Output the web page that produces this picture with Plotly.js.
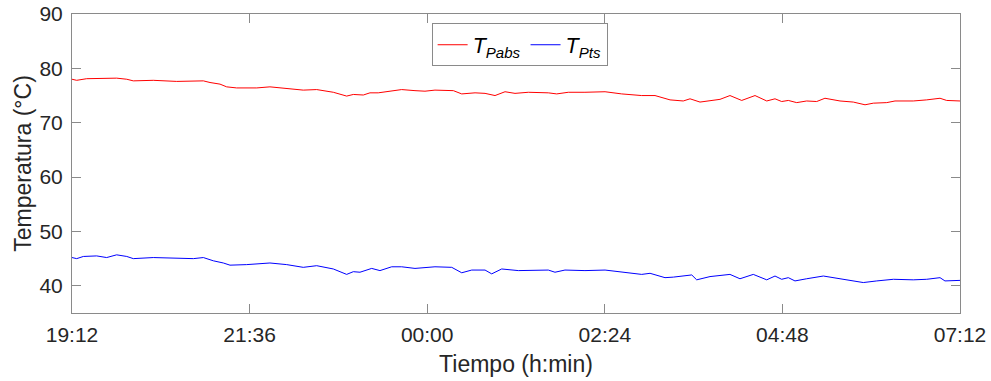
<!DOCTYPE html>
<html><head><meta charset="utf-8">
<script src="https://cdn.plot.ly/plotly-3.0.1.min.js"></script>
<style>html,body{margin:0;padding:0;background:#fff}#chart{width:991px;height:381px}</style>
</head><body><div id="chart"></div>
<script>
const tickMinutes = [0, 144, 288, 432, 576, 720];
const tickLabels = ['19:12', '21:36', '00:00', '02:24', '04:48', '07:12'];
const yTicks = [40, 50, 60, 70, 80, 90];

const redMinutes = [0, 3.8, 11.9, 25.1, 36.2, 44.4, 49.7, 65.9, 84.9, 106.5, 111.9, 120.0, 125.4, 133.5, 149.8, 160.5, 174.1, 187.5, 198.4, 211.9, 222.7, 228.1, 236.2, 241.6, 248.3, 256.5, 267.3, 278.1, 286.2, 294.3, 309.2, 316.0, 326.8, 334.9, 343.0, 351.1, 359.2, 370.0, 386.2, 393.0, 402.4, 415.9, 432.2, 445.7, 461.9, 472.7, 476.8, 484.9, 495.6, 501.1, 509.2, 525.4, 533.5, 543.0, 553.8, 563.3, 570.0, 575.4, 580.8, 587.6, 595.7, 603.8, 610.5, 622.7, 633.5, 643.0, 649.7, 660.6, 667.3, 682.1, 693.0, 703.8, 709.2, 720];
const redTemps = [78.0, 77.8, 78.1, 78.1, 78.2, 78.0, 77.7, 77.8, 77.6, 77.7, 77.4, 77.1, 76.6, 76.4, 76.4, 76.6, 76.3, 76.0, 76.1, 75.6, 74.9, 75.2, 75.1, 75.5, 75.5, 75.8, 76.1, 75.9, 75.8, 76.0, 75.9, 75.3, 75.5, 75.4, 75.0, 75.7, 75.4, 75.6, 75.5, 75.3, 75.6, 75.6, 75.7, 75.3, 75.0, 75.0, 74.7, 74.2, 74.0, 74.4, 73.8, 74.3, 75.0, 74.1, 75.0, 74.0, 74.4, 73.9, 74.1, 73.7, 74.0, 73.9, 74.5, 74.0, 73.8, 73.3, 73.6, 73.7, 74.0, 74.0, 74.2, 74.5, 74.1, 74.0];

const blueMinutes = [0, 3.8, 9.2, 20.0, 28.1, 36.2, 44.4, 49.7, 65.9, 84.9, 98.4, 106.5, 114.6, 122.7, 128.1, 141.6, 152.4, 160.5, 174.1, 187.5, 198.4, 211.9, 222.7, 228.1, 233.5, 243.0, 249.7, 259.2, 267.3, 278.1, 294.3, 307.9, 316.0, 324.1, 334.9, 340.3, 348.4, 361.9, 386.2, 391.6, 399.7, 415.9, 432.2, 448.4, 461.9, 468.7, 476.8, 480.8, 487.6, 498.4, 502.5, 506.5, 517.3, 533.5, 541.6, 552.4, 563.3, 570.0, 575.4, 580.8, 586.2, 595.7, 609.2, 622.7, 633.5, 641.6, 652.5, 666.0, 682.1, 693.0, 703.8, 707.8, 720];
const blueTemps = [45.2, 45.0, 45.4, 45.5, 45.2, 45.7, 45.4, 45.0, 45.2, 45.1, 45.0, 45.2, 44.6, 44.2, 43.8, 43.9, 44.0, 44.2, 43.9, 43.4, 43.7, 43.1, 42.1, 42.6, 42.5, 43.2, 42.8, 43.5, 43.5, 43.2, 43.5, 43.4, 42.4, 42.9, 42.9, 42.2, 43.1, 42.8, 42.9, 42.5, 42.9, 42.8, 42.9, 42.5, 42.1, 42.3, 41.8, 41.5, 41.6, 41.8, 42.0, 41.1, 41.7, 42.1, 41.3, 42.1, 41.1, 41.8, 41.2, 41.5, 40.9, 41.3, 41.8, 41.3, 40.9, 40.6, 40.9, 41.2, 41.1, 41.2, 41.5, 40.9, 41.0];

const FONT = 'Liberation Sans, Arial, Helvetica, sans-serif';
const TXT = '#262626';
const AX = '#8a8a8a';

const traces = [
  {x: redMinutes, y: redTemps, type: 'scatter', mode: 'lines',
   name: '<i>T</i><sub><i>Pabs</i></sub>', line: {color: '#ff0000', width: 1}},
  {x: blueMinutes, y: blueTemps, type: 'scatter', mode: 'lines',
   name: '<i>T</i><sub><i>Pts</i></sub>', line: {color: '#0000ff', width: 1}}
];

const layout = {
  width: 991, height: 381,
  margin: {l: 72, r: 31, t: 14, b: 68},
  paper_bgcolor: '#fff', plot_bgcolor: '#fff',
  font: {family: FONT, color: TXT, size: 21},
  showlegend: true,
  legend: {orientation: 'h', x: 0.405, y: 0.969, xanchor: 'left', yanchor: 'top',
    bgcolor: '#fff', bordercolor: AX, borderwidth: 1, font: {size: 21.5, color: '#000'},
    itemwidth: 30, tracegroupgap: 0},
  xaxis: {range: [0, 720], tickvals: tickMinutes, ticktext: tickLabels,
    ticks: 'inside', ticklen: 9, tickcolor: AX, tickwidth: 1,
    showline: true, linecolor: AX, linewidth: 1, mirror: 'ticks',
    showgrid: false, zeroline: false, tickfont: {size: 21, color: TXT},
    ticklabelstandoff: 3,
    title: {text: 'Tiempo (h:min)', font: {size: 23, color: TXT}, standoff: 10}},
  yaxis: {range: [35, 90], tickvals: yTicks,
    ticks: 'inside', ticklen: 9, tickcolor: AX, tickwidth: 1,
    showline: true, linecolor: AX, linewidth: 1, mirror: 'ticks',
    showgrid: false, zeroline: false, tickfont: {size: 21, color: TXT},
    ticklabelstandoff: 4,
    title: {text: 'Temperatura (°C)', font: {size: 23, color: TXT}, standoff: 1}}
};

Plotly.newPlot('chart', traces, layout, {displayModeBar: false, staticPlot: true});
</script>
</body></html>
